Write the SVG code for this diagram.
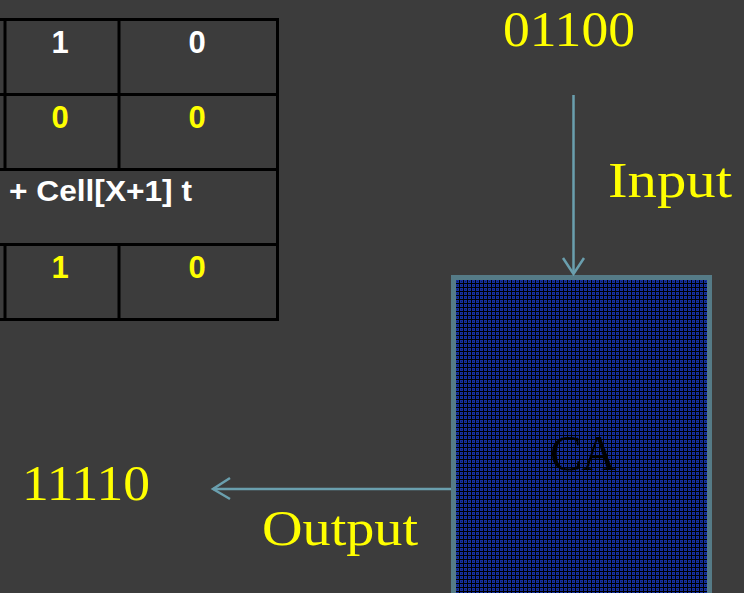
<svg xmlns="http://www.w3.org/2000/svg" width="744" height="593" viewBox="0 0 744 593">
<defs>
<style>
.grid{stroke:#000;stroke-width:3;fill:none}
.tw{font-family:"Liberation Sans",Arial,sans-serif;font-weight:bold;font-size:31px;fill:#ffffff;text-anchor:middle}
.ty{font-family:"Liberation Sans",Arial,sans-serif;font-weight:bold;font-size:31px;fill:#ffff00;text-anchor:middle}
.big{font-family:"Liberation Serif","Times New Roman",serif;font-size:51px;fill:#ffff00}
.conn{stroke:#6a9fae;stroke-width:2.5;fill:none}
</style>
<pattern id="dots" width="4" height="4" patternUnits="userSpaceOnUse">
<rect width="4" height="4" fill="#000000"/>
<rect x="0" y="0" width="3" height="3" fill="#1530a0"/>
<rect x="1" y="1" width="1" height="1" fill="#0c1a5c"/>
</pattern>
</defs>
<rect width="744" height="593" fill="#3c3c3c"/>
<g id="table">
<path class="grid" d="M0 19.5H277.5V319.5H0M0 94.5H277.5M0 169.5H277.5M0 244.5H277.5M5 19.5V169.5M5 244.5V319.5M119 19.5V169.5M119 244.5V319.5"/>
<text class="tw" x="60" y="53">1</text>
<text class="tw" x="197" y="53">0</text>
<text class="ty" x="60" y="128">0</text>
<text class="ty" x="197" y="128">0</text>
<text x="9" y="201" style="font-family:'Liberation Sans',Arial,sans-serif;font-weight:bold;font-size:29px;fill:#ffffff" textLength="183" lengthAdjust="spacingAndGlyphs">+ Cell[X+1] t</text>
<text class="ty" x="60" y="278">1</text>
<text class="ty" x="197" y="278">0</text>
</g>
<g id="ca">
<rect x="453.5" y="277.5" width="256" height="330" fill="url(#dots)" stroke="#557b87" stroke-width="5"/>
<text x="583" y="470" text-anchor="middle" style="font-family:'Liberation Serif','Times New Roman',serif;font-size:51px;fill:#000" textLength="66" lengthAdjust="spacingAndGlyphs">CA</text>
</g>
<g id="input-value"><text class="big" x="503" y="46" textLength="132" lengthAdjust="spacingAndGlyphs">01100</text></g>
<g id="output-value"><text class="big" x="22" y="500" textLength="128" lengthAdjust="spacingAndGlyphs">11110</text></g>
<g id="connectors">
<path class="conn" d="M573.5 95V274"/>
<path class="conn" d="M563 258L573.5 274L584 258"/>
<path class="conn" d="M451 489H213"/>
<path class="conn" d="M230 478L213 489L230 499"/>
<text class="big" x="608" y="197" textLength="124" lengthAdjust="spacingAndGlyphs">Input</text>
<text class="big" x="262" y="545" textLength="156" lengthAdjust="spacingAndGlyphs">Output</text>
</g>
</svg>
